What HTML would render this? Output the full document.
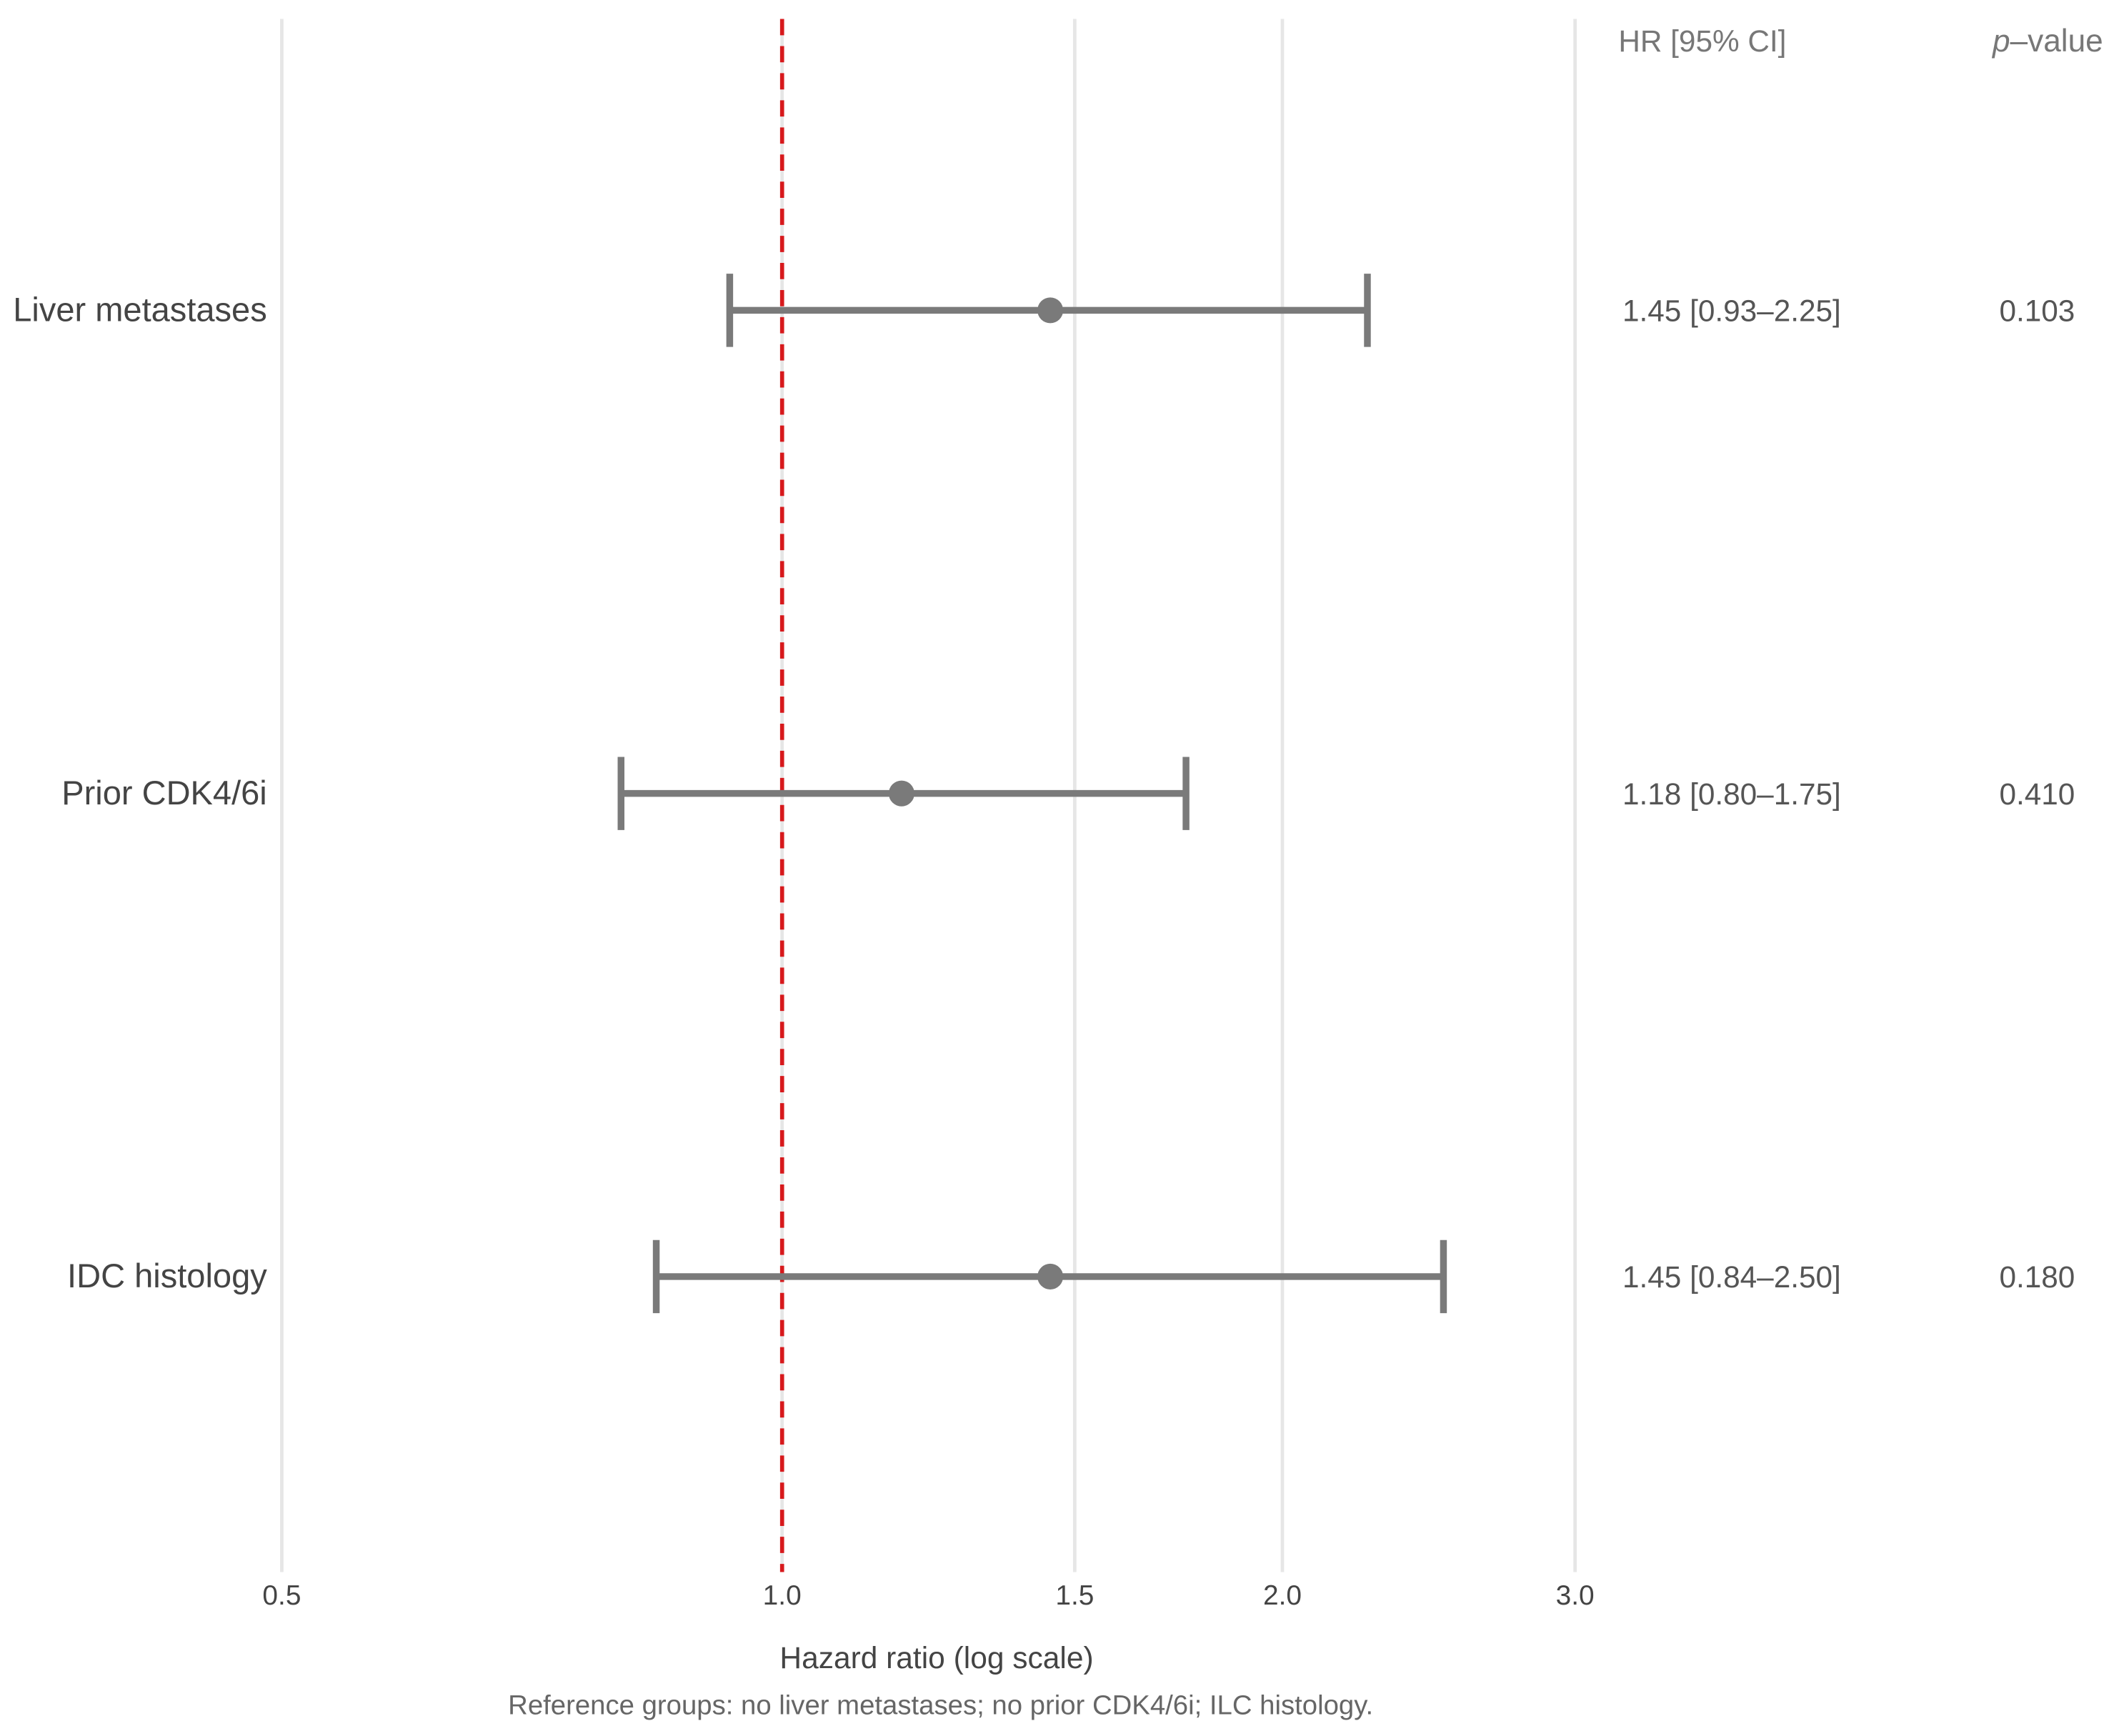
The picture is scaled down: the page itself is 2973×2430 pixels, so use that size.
<!DOCTYPE html>
<html><head><meta charset="utf-8"><style>
html,body{margin:0;padding:0;background:#fff;}
svg{display:block;}
text{font-family:"Liberation Sans",sans-serif;}
</style></head><body>
<svg id="chart" width="2973" height="2430" viewBox="0 0 1567 1281" preserveAspectRatio="none" xmlns="http://www.w3.org/2000/svg">
<g id="grid"></g>
<g id="ticks"></g>
<line id="refline" stroke="#d7191c" stroke-width="3" stroke-dasharray="12,8"/>
<g id="rows"></g>
<text x="1194" y="38" font-size="22.3" fill="#777">HR [95% CI]</text>
<text x="1470" y="38" font-size="23.3" fill="#777"><tspan font-style="italic">p</tspan>–value</text>
<text x="691" y="1231" font-size="22.4" fill="#444" text-anchor="middle">Hazard ratio (log scale)</text>
<text x="694" y="1265" font-size="20.2" fill="#666" text-anchor="middle">Reference groups: no liver metastases; no prior CDK4/6i; ILC histology.</text>
</svg>
<script>
const categories = ["Liver metastases", "Prior CDK4/6i", "IDC histology"];
const hr = [1.45, 1.18, 1.45];
const lower = [0.93, 0.80, 0.84];
const upper = [2.25, 1.75, 2.50];
const hrLabels = ["1.45 [0.93–2.25]", "1.18 [0.80–1.75]", "1.45 [0.84–2.50]"];
const pLabels = ["0.103", "0.410", "0.180"];
const tickValues = [0.5, 1.0, 1.5, 2.0, 3.0];
const tickLabels = ["0.5", "1.0", "1.5", "2.0", "3.0"];

const NS = "http://www.w3.org/2000/svg";
const x = v => 577 + Math.log(v) * 532.5;
const y = i => 229 + i * 356.5;
function mk(tag, attrs, parent, txt) {
  const e = document.createElementNS(NS, tag);
  for (const k in attrs) e.setAttribute(k, attrs[k]);
  if (txt !== undefined) e.textContent = txt;
  parent.appendChild(e);
  return e;
}
const grid = document.getElementById('grid');
const ticks = document.getElementById('ticks');
tickValues.forEach((v, i) => {
  const g = mk('line', {x1: x(v), x2: x(v), y1: 14, y2: 1160, stroke: '#e6e6e6', 'stroke-width': 2.5}, grid);
  
  
  const t = mk('text', {x: x(v), y: 1184, 'font-size': 20.5, fill: '#444', 'text-anchor': 'middle'}, ticks, tickLabels[i]);
  
  
});
const ref = document.getElementById('refline');
ref.setAttribute('x1', x(1)); ref.setAttribute('x2', x(1));
ref.setAttribute('y1', 14); ref.setAttribute('y2', 1160);
const rows = document.getElementById('rows');
categories.forEach((c, i) => {
  const yy = y(i);
  const g = mk('g', {}, rows);
  
  
  const lab = mk('text', {x: 197, y: yy + 8, 'font-size': 24.8, fill: '#444', 'text-anchor': 'end'}, g, c);
  
  
  const ln = mk('line', {x1: x(lower[i]), x2: x(upper[i]), y1: yy, y2: yy, stroke: '#7a7a7a', 'stroke-width': 5}, g);
  
  
  [lower[i], upper[i]].forEach(v => {
    const cp = mk('line', {x1: x(v), x2: x(v), y1: yy - 27, y2: yy + 27, stroke: '#7a7a7a', 'stroke-width': 5}, g);
    
    
  });
  const pt = mk('circle', {cx: x(hr[i]), cy: yy, r: 9.5, fill: '#7a7a7a'}, g);
  
  
  const h = mk('text', {x: 1197, y: yy + 8, 'font-size': 22.3, fill: '#555'}, g, hrLabels[i]);
  
  
  const p = mk('text', {x: 1475, y: yy + 8, 'font-size': 22.3, fill: '#555'}, g, pLabels[i]);
  
  
});
</script>
</body></html>
